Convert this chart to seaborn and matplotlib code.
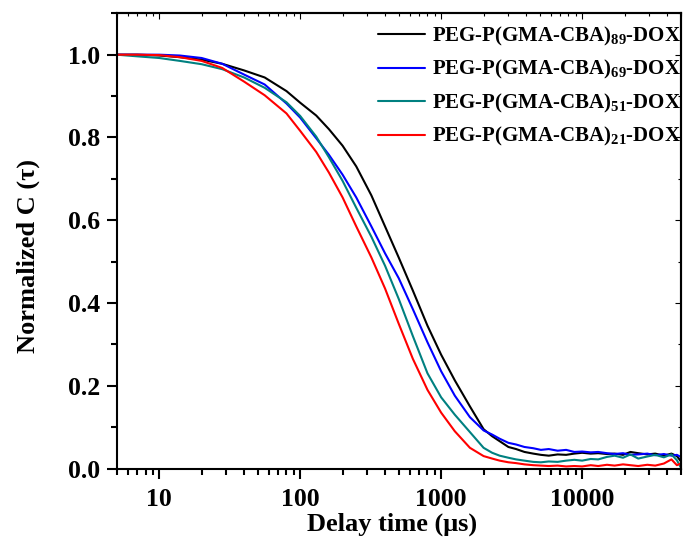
import matplotlib
matplotlib.use("Agg")
import matplotlib.pyplot as plt
import matplotlib.ticker as mticker
import numpy as np
import pandas as pd
import seaborn as sns

# ---- data ----
delay_time = [5, 7, 10, 14, 20, 28, 40, 56, 80, 100, 130, 160, 200, 250, 320, 400,
              500, 630, 800, 1000, 1250, 1600, 2000, 2300, 2600, 3000, 3400, 3900,
              4500, 5100, 5800, 6700, 7700, 8800, 10000, 11500, 13000, 15000, 17000,
              19500, 22000, 25000, 29000, 33000, 38000, 43000, 47000, 50000]

c_89 = [1.000, 1.000, 0.998, 0.994, 0.988, 0.978, 0.962, 0.945, 0.912, 0.884, 0.853,
        0.820, 0.780, 0.730, 0.660, 0.585, 0.510, 0.430, 0.345, 0.275, 0.213, 0.150,
        0.095, 0.078, 0.066, 0.052, 0.047, 0.040, 0.036, 0.033, 0.031, 0.034, 0.033,
        0.036, 0.038, 0.036, 0.037, 0.035, 0.036, 0.033, 0.040, 0.037, 0.034, 0.036,
        0.031, 0.036, 0.030, 0.018]

c_69 = [1.000, 1.000, 1.000, 0.998, 0.992, 0.978, 0.952, 0.928, 0.882, 0.848, 0.798,
        0.758, 0.710, 0.655, 0.585, 0.520, 0.460, 0.385, 0.305, 0.235, 0.176, 0.124,
        0.092, 0.082, 0.072, 0.062, 0.058, 0.052, 0.049, 0.045, 0.047, 0.043, 0.045,
        0.040, 0.041, 0.039, 0.040, 0.037, 0.035, 0.037, 0.033, 0.034, 0.036, 0.032,
        0.035, 0.031, 0.033, 0.028]

c_51 = [1.000, 0.996, 0.992, 0.985, 0.977, 0.965, 0.945, 0.920, 0.885, 0.852, 0.802,
        0.752, 0.695, 0.630, 0.560, 0.490, 0.410, 0.320, 0.230, 0.172, 0.130, 0.088,
        0.050, 0.038, 0.031, 0.026, 0.022, 0.019, 0.016, 0.015, 0.017, 0.016, 0.019,
        0.021, 0.019, 0.023, 0.022, 0.028, 0.031, 0.026, 0.034, 0.024, 0.029, 0.033,
        0.027, 0.034, 0.020, 0.003]

c_21 = [1.000, 1.000, 0.999, 0.994, 0.985, 0.968, 0.935, 0.902, 0.858, 0.816, 0.765,
        0.715, 0.655, 0.585, 0.510, 0.435, 0.350, 0.265, 0.190, 0.135, 0.090, 0.050,
        0.030, 0.024, 0.019, 0.015, 0.013, 0.010, 0.008, 0.007, 0.006, 0.007, 0.005,
        0.006, 0.005, 0.008, 0.006, 0.009, 0.007, 0.010, 0.008, 0.006, 0.009, 0.007,
        0.012, 0.022, 0.008, 0.012]

labels = [r"PEG-P(GMA-CBA)$_{89}$-DOX",
          r"PEG-P(GMA-CBA)$_{69}$-DOX",
          r"PEG-P(GMA-CBA)$_{51}$-DOX",
          r"PEG-P(GMA-CBA)$_{21}$-DOX"]
colors = ["#000000", "#0000FF", "#008080", "#FF0000"]

y_ticks = [0.0, 0.2, 0.4, 0.6, 0.8, 1.0]
x_ticks = [10, 100, 1000, 10000]

# ---- build long table ----
frames = []
for lab, vals in zip(labels, [c_89, c_69, c_51, c_21]):
    frames.append(pd.DataFrame({"t": delay_time, "c": vals, "sample": lab}))
df = pd.concat(frames, ignore_index=True)

# ---- style ----
sns.set_style("ticks")
plt.rcParams["font.family"] = ["Liberation Serif", "DejaVu Serif"]
plt.rcParams["font.weight"] = "bold"
plt.rcParams["axes.labelweight"] = "bold"
plt.rcParams["text.color"] = "black"
plt.rcParams["axes.labelcolor"] = "black"
plt.rcParams["xtick.color"] = "black"
plt.rcParams["ytick.color"] = "black"
plt.rcParams["mathtext.fontset"] = "custom"
plt.rcParams["mathtext.rm"] = "Liberation Serif:bold"
plt.rcParams["mathtext.default"] = "rm"

fig = plt.figure(figsize=(6.83, 5.43), dpi=100)
ax = fig.add_axes([0.1709, 0.1372, 0.9966 - 0.1709, 0.9755 - 0.1372])

sns.lineplot(data=df, x="t", y="c", hue="sample", palette=colors,
             hue_order=labels, estimator=None, sort=True, lw=1.5, ax=ax)

ax.set_xscale("log")
ax.set_xlim(5, 50000)
ax.set_ylim(0, 1.1)

ax.set_xticks(x_ticks)
ax.xaxis.set_major_formatter(mticker.FuncFormatter(lambda v, p: f"{int(v)}"))
ax.xaxis.set_minor_locator(mticker.LogLocator(base=10, subs=np.arange(2, 10)))
ax.xaxis.set_minor_formatter(mticker.NullFormatter())
ax.set_yticks(y_ticks)
ax.yaxis.set_major_formatter(mticker.FormatStrFormatter("%.1f"))
ax.yaxis.set_minor_locator(mticker.MultipleLocator(0.1))

for s in ax.spines.values():
    s.set_linewidth(1.5)
    s.set_color("black")

ax.tick_params(axis="both", which="major", direction="out", length=7, width=1.5,
               labelsize=18.5, colors="black", top=False, right=False)
ax.tick_params(axis="both", which="minor", direction="out", length=4, width=1.5,
               colors="black", top=False, right=False)
ax.tick_params(axis="x", which="major", pad=7)
ax.tick_params(axis="y", which="major", pad=5)

# inward ticks on top and right axes (no labels)
secx = ax.secondary_xaxis("top")
secx.set_xticks(x_ticks)
secx.xaxis.set_minor_locator(mticker.LogLocator(base=10, subs=np.arange(2, 10)))
secx.tick_params(which="major", direction="in", length=4, width=0.8, labeltop=False)
secx.tick_params(which="minor", direction="in", length=2.5, width=0.8)
secx.xaxis.set_major_formatter(mticker.NullFormatter())
secx.xaxis.set_minor_formatter(mticker.NullFormatter())
secx.spines["top"].set_linewidth(1.5)
secy = ax.secondary_yaxis("right")
secy.set_yticks(y_ticks)
secy.yaxis.set_minor_locator(mticker.MultipleLocator(0.1))
secy.tick_params(which="major", direction="in", length=4, width=0.8, labelright=False)
secy.tick_params(which="minor", direction="in", length=2.5, width=0.8)
secy.yaxis.set_major_formatter(mticker.NullFormatter())
secy.spines["right"].set_linewidth(1.5)

for lbl in ax.get_xticklabels() + ax.get_yticklabels():
    lbl.set_fontweight("bold")

ax.set_xlabel("Delay time (μs)", fontsize=19, fontweight="bold", color="black")
ax.set_ylabel("Normalized C (τ)", fontsize=19, fontweight="bold", color="black")
ax.xaxis.set_label_coords(0.489, -0.096)
ax.yaxis.set_label_coords(-0.136, 0.466)

leg = ax.legend(loc="upper left", bbox_to_anchor=(378 / 683, 0.954),
                bbox_transform=fig.transFigure, frameon=False, fontsize=15,
                handlelength=2.26, handletextpad=0.34, borderpad=0,
                borderaxespad=0, labelspacing=0.5)
for line in leg.get_lines():
    line.set_linewidth(1.5)
for txt in leg.get_texts():
    txt.set_fontweight("bold")
    txt.set_color("black")

fig.savefig("out.png", dpi=100)
